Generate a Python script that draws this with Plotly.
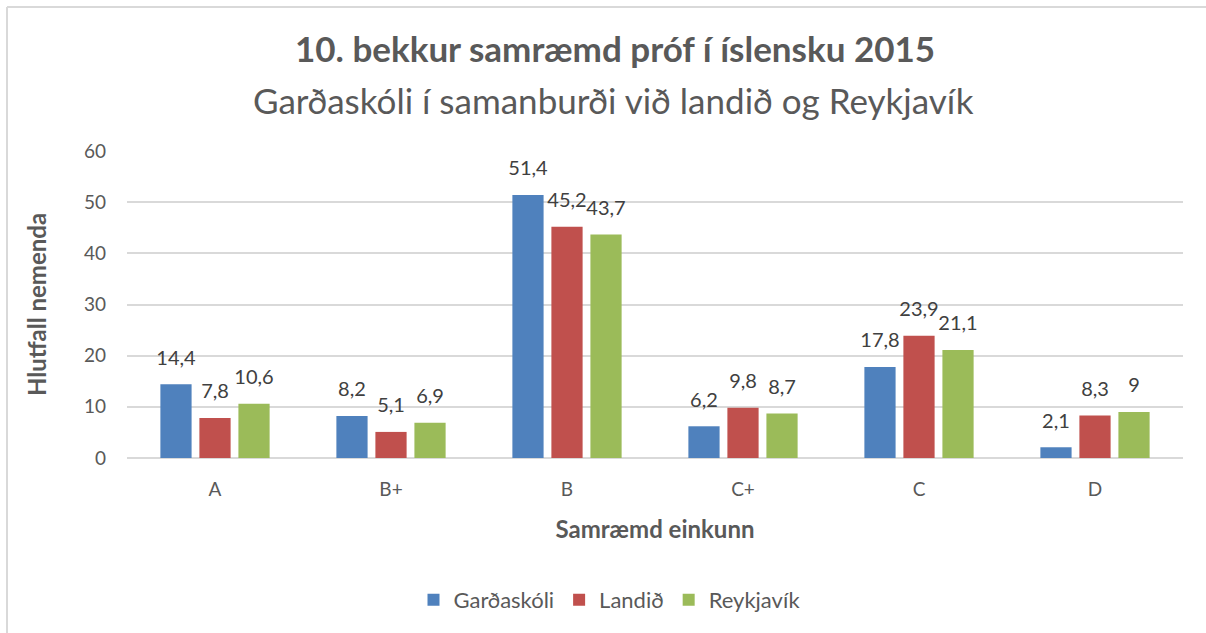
import plotly.graph_objects as go

categories = ["A", "B+", "B", "C+", "C", "D"]
gardaskoli = [14.4, 8.2, 51.4, 6.2, 17.8, 2.1]
landid = [7.8, 5.1, 45.2, 9.8, 23.9, 8.3]
reykjavik = [10.6, 6.9, 43.7, 8.7, 21.1, 9]
series_names = ["Garðaskóli", "Landið", "Reykjavík"]
colors = ["#4F81BD", "#C0504D", "#9BBB59"]

W, H = 1206, 633
ml, mr, mt, mb = 127, 23, 151, 175
pw, ph = W - ml - mr, H - mt - mb
font = "Lato"
BARGAP = 0.335

def fmt(v):
    return str(v).replace(".", ",")

def px_x(p):
    return (p - ml) / pw

def px_y(p):
    return 1 - (p - mt) / ph

fig = go.Figure()
for name, vals, c in zip(series_names, [gardaskoli, landid, reykjavik], colors):
    fig.add_trace(go.Bar(
        x=categories, y=vals, name=name, marker=dict(color=c, line=dict(width=0)),
        offsetgroup=name, hoverinfo="skip",
    ))
for name, vals in zip(series_names, [gardaskoli, landid, reykjavik]):
    fig.add_trace(go.Scatter(
        x=categories, y=vals, mode="markers+text", offsetgroup=name,
        marker=dict(size=22, color="rgba(0,0,0,0)"),
        text=[fmt(v) for v in vals], textposition="top center", cliponaxis=False,
        textfont=dict(family=font, size=20, color="#404040"),
        showlegend=False, hoverinfo="skip",
    ))

fig.update_layout(
    width=W, height=H,
    margin=dict(l=ml, r=mr, t=mt, b=mb, pad=0),
    paper_bgcolor="white", plot_bgcolor="white",
    barmode="group", bargap=BARGAP, bargroupgap=0.2,
    scattermode="group", scattergap=BARGAP,
    font=dict(family=font, color="#595959"),
    xaxis=dict(
        showgrid=False, showline=False, ticks="",
        tickfont=dict(family=font, size=19, color="#595959"), ticklabelstandoff=18,
        title=dict(text="<b>Samræmd einkunn</b>", font=dict(family=font, size=24, color="#595959"), standoff=22),
    ),
    yaxis=dict(
        range=[0, 60], dtick=10, showgrid=True, gridcolor="#D9D9D9", gridwidth=1.5,
        zeroline=True, zerolinecolor="#D9D9D9", zerolinewidth=1.5,
        showline=False, ticks="",
        tickfont=dict(family=font, size=19, color="#595959"), ticklabelstandoff=20,
        title=dict(text="<b>Hlutfall nemenda</b>", font=dict(family=font, size=24, color="#595959"), standoff=30),
    ),
    legend=dict(
        orientation="h", x=px_x(610), xanchor="center", y=px_y(600), yanchor="middle",
        font=dict(family=font, size=22, color="#595959"), traceorder="normal",
    ),
    annotations=[
        dict(text="<b>10. bekkur samræmd próf í íslensku 2015</b>", xref="paper", yref="paper",
             x=px_x(W / 2 + 12), y=px_y(48), xanchor="center", yanchor="middle",
             showarrow=False, font=dict(family=font, size=35, color="#595959")),
        dict(text="Garðaskóli í samanburði við landið og Reykjavík", xref="paper", yref="paper",
             x=px_x(W / 2 + 10), y=px_y(100), xanchor="center", yanchor="middle",
             showarrow=False, font=dict(family=font, size=35, color="#595959")),
    ],
    shapes=[
        dict(type="line", xref="paper", yref="paper", x0=px_x(7), x1=px_x(W), y0=px_y(7), y1=px_y(7),
             line=dict(color="#D9D9D9", width=2), layer="below"),
        dict(type="line", xref="paper", yref="paper", x0=px_x(7), x1=px_x(7), y0=px_y(7), y1=px_y(H),
             line=dict(color="#D9D9D9", width=2), layer="below"),
    ],
)

fig.write_html("out.html", config={"displayModeBar": False},
               post_script="document.body.style.margin='0';document.body.style.overflow='hidden';")
